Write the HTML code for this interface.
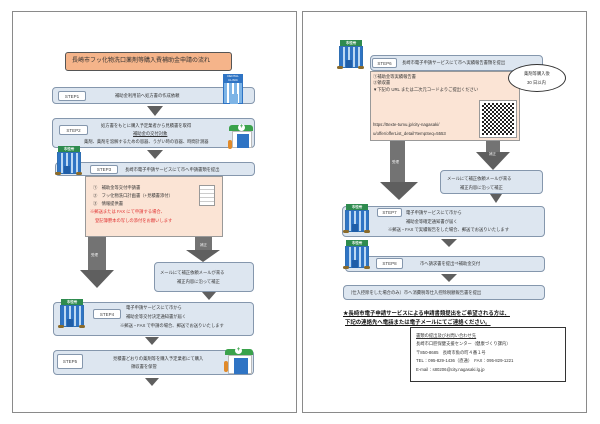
<!DOCTYPE html>
<html><head><meta charset="utf-8"><style>
*{margin:0;padding:0;box-sizing:border-box}
body{width:600px;height:424px;background:#fff;position:relative;overflow:hidden;font-family:"Liberation Sans","Noto Sans CJK JP",sans-serif;color:#333}
.a{position:absolute}
.page{position:absolute;border:1px solid #8a8a8a;background:#fff}
.bar{position:absolute;background:#dde6f0;border:1px solid #8597ad;border-radius:4px}
.lab{position:absolute;background:#fff;border:1px solid #8597ad;border-radius:2px;font-size:4.5px;text-align:center;color:#444}
.t{position:absolute;font-size:4.3px;white-space:nowrap;color:#333}
.tri{position:absolute;width:0;height:0;border-left:7px solid transparent;border-right:7px solid transparent;border-top:9px solid #5f5f5f}
.shaft{position:absolute;background:#737373}
.head{position:absolute;width:0;height:0;border-top:solid #5f5f5f}
.box{position:absolute;background:#fbe4d5;border:1px solid #999}
.mail{position:absolute;background:#dde6f0;border:1px solid #8597ad;border-radius:4px}
.bld{position:absolute}
.bld .sg{position:absolute;left:3px;top:0;width:15px;height:6px;background:#2e8b4e;color:#fff;font-size:3.5px;font-weight:bold;text-align:center;line-height:6px}
.bld .bd{position:absolute;left:2px;top:6px;width:19px;height:22px;background:#7db4e6;border:1px solid #2f6fb3;background-image:repeating-linear-gradient(90deg,#2f74c4 0 3px,#bcd8f2 3px 5px)}
.bld .dr{position:absolute;left:9px;top:20px;width:6px;height:8px;background:#1f5ea8}
.bld .gr{position:absolute;top:26px;width:6px;height:3px;background:#8a6a2a;border-radius:2px}
</style></head><body>

<!-- LEFT PAGE -->
<div class="page" style="left:12px;top:11px;width:285px;height:402px"></div>
<div class="a" style="left:65px;top:52px;width:167px;height:19px;background:#f5b48a;border:1.5px solid #555;border-radius:3px;font-size:6px;line-height:16px;padding-left:6px;color:#333">長崎市フッ化物洗口薬剤等購入費補助金申請の流れ</div>

<div class="bar" style="left:52px;top:87px;width:203px;height:17px"></div>
<div class="lab" style="left:58px;top:91px;width:28px;height:10px;line-height:9px">STEP1</div>
<div class="t" style="left:115px;top:93px">補助金利用前へ処方書の作成依頼</div>
<div class="a" style="left:221px;top:74px;width:26px;height:30px">
 <div class="a" style="left:2px;top:0;width:20px;height:8px;background:#2f74c4;color:#fff;font-size:3px;text-align:center;line-height:4px">DENTAL<br>CLINIC</div>
 <div class="a" style="left:2px;top:8px;width:20px;height:22px;background:#fff;border:1px solid #2f74c4;background-image:repeating-linear-gradient(90deg,#7db4e6 0 3px,#fff 3px 5px)"></div>
 <div class="a" style="left:9px;top:20px;width:8px;height:10px;background:#7db4e6"></div>
</div>
<div class="tri" style="left:147px;top:106px;border-left-width:8px;border-right-width:8px;border-top-width:10px"></div>

<div class="bar" style="left:52px;top:118px;width:203px;height:30px"></div>
<div class="lab" style="left:59px;top:125px;width:29px;height:10px;line-height:9px">STEP2</div>
<div class="t" style="left:101px;top:123px">処方書をもとに購入予定業者から見積書を取得</div>
<div class="t" style="left:133px;top:131px;text-decoration:underline">補助金の交付対象</div>
<div class="t" style="left:84px;top:139px">薬剤、薬剤を溶解するための容器、うがい時の容器、時間計測器</div>
<div class="a" style="left:228px;top:124px;width:26px;height:26px">
 <div class="a" style="left:1px;top:1px;width:24px;height:6px;background:#3aa24b;border-radius:3px 3px 0 0"></div>
 <div class="a" style="left:10px;top:0;width:7px;height:7px;background:#fff;border-radius:50%;color:#3aa24b;font-size:6px;text-align:center;line-height:7px;font-weight:bold">+</div>
 <div class="a" style="left:4px;top:7px;width:20px;height:17px;background:#fff;border:1px solid #bbb"></div>
 <div class="a" style="left:9px;top:10px;width:12px;height:14px;background:#2f74c4"></div>
</div>
<div class="a" style="left:228px;top:140px;width:4px;height:9px;background:#e08a2a;border-radius:2px"></div>
<div class="tri" style="left:147px;top:150px;border-left-width:8px;border-right-width:8px;border-top-width:9px"></div>

<div class="bar" style="left:55px;top:162px;width:200px;height:14px"></div>
<div class="bld" style="left:55px;top:146px;width:30px;height:32px"><div class="sg" style="width:22px">市役所</div><div class="bd" style="width:24px"></div><div class="dr"></div><div class="gr" style="left:0"></div><div class="gr" style="left:21px"></div></div>
<div class="lab" style="left:90px;top:165px;width:28px;height:9px;line-height:8px">STEP3</div>
<div class="t" style="left:125px;top:167px">長崎市電子申請サービスにて市へ申請書類を提出</div>

<div class="box" style="left:85px;top:176px;width:138px;height:61px"></div>
<div class="t" style="left:93px;top:185px">①　補助金等交付申請書</div>
<div class="t" style="left:93px;top:193px">②　フッ化物洗口計画書（+見積書添付）</div>
<div class="t" style="left:93px;top:201px">③　情報提供書</div>
<div class="t" style="left:90px;top:209px;color:#e03030">※郵送または FAX にて申請する場合、</div>
<div class="t" style="left:95px;top:218px;color:#e03030">登記簿謄本の写しの添付をお願いします</div>
<div class="a" style="left:199px;top:185px;width:16px;height:21px;background:#fff;border:1px solid #999;background-image:repeating-linear-gradient(180deg,#fff 0 3px,#ccc 3px 4px)"></div>

<div class="shaft" style="left:88px;top:237px;width:18px;height:34px"></div>
<div class="head" style="left:80px;top:270px;border-left:17px solid transparent;border-right:17px solid transparent;border-top-width:18px"></div>
<div class="t" style="left:91px;top:253px;color:#eee;font-size:3.5px">受理</div>
<div class="shaft" style="left:195px;top:237px;width:17px;height:14px"></div>
<div class="head" style="left:186px;top:250px;border-left:17px solid transparent;border-right:17px solid transparent;border-top-width:12px"></div>
<div class="t" style="left:200px;top:243px;color:#eee;font-size:3.5px">補正</div>

<div class="mail" style="left:154px;top:262px;width:100px;height:30px"></div>
<div class="t" style="left:160px;top:270px">メールにて補正依頼メールが来る</div>
<div class="t" style="left:177px;top:279px">補正内容に沿って補正</div>
<div class="tri" style="left:202px;top:292px;border-left-width:7px;border-right-width:7px;border-top-width:8px"></div>

<div class="bar" style="left:53px;top:302px;width:201px;height:34px"></div>
<div class="bld" style="left:58px;top:299px;width:30px;height:32px"><div class="sg" style="width:22px">市役所</div><div class="bd" style="width:24px"></div><div class="dr"></div><div class="gr" style="left:0"></div><div class="gr" style="left:21px"></div></div>
<div class="lab" style="left:93px;top:309px;width:28px;height:10px;line-height:9px">STEP4</div>
<div class="t" style="left:126px;top:305px">電子申請サービスにて市から</div>
<div class="t" style="left:126px;top:314px">補助金等交付決定通知書が届く</div>
<div class="t" style="left:120px;top:323px">※郵送・FAX で申請の場合、郵送でお送りいたします</div>
<div class="tri" style="left:145px;top:337px;border-top-width:8px"></div>

<div class="bar" style="left:53px;top:350px;width:201px;height:25px"></div>
<div class="lab" style="left:57px;top:354px;width:26px;height:15px;line-height:14px">STEP5</div>
<div class="t" style="left:113px;top:356px">見積書どおりの薬剤等を購入予定業者にて購入</div>
<div class="t" style="left:131px;top:364px">領収書を保管</div>
<div class="a" style="left:224px;top:347px;width:30px;height:28px">
 <div class="a" style="left:1px;top:2px;width:28px;height:6px;background:#3aa24b;border-radius:3px 3px 0 0"></div>
 <div class="a" style="left:11px;top:0;width:7px;height:7px;background:#fff;border-radius:50%;color:#3aa24b;font-size:6px;text-align:center;line-height:7px;font-weight:bold">+</div>
 <div class="a" style="left:4px;top:8px;width:24px;height:19px;background:#fff;border:1px solid #bbb"></div>
 <div class="a" style="left:10px;top:11px;width:14px;height:16px;background:#2f74c4"></div>
 <div class="a" style="left:0;top:14px;width:4px;height:11px;background:#e08a2a;border-radius:2px"></div>
</div>
<div class="tri" style="left:145px;top:378px;border-top-width:8px"></div>

<!-- RIGHT PAGE -->
<div class="page" style="left:302px;top:11px;width:285px;height:402px"></div>
<div class="bar" style="left:370px;top:55px;width:173px;height:16px"></div>
<div class="bld" style="left:337px;top:40px;width:30px;height:32px"><div class="sg" style="width:22px">市役所</div><div class="bd" style="width:24px"></div><div class="dr"></div><div class="gr" style="left:0"></div><div class="gr" style="left:21px"></div></div>
<div class="lab" style="left:372px;top:58px;width:25px;height:10px;line-height:9px">STEP6</div>
<div class="t" style="left:402px;top:60px">長崎市電子申請サービスにて市へ実績報告書類を提出</div>
<div class="box" style="left:370px;top:71px;width:150px;height:70px"></div>
<div class="t" style="left:373px;top:74px">①補助金等実績報告書</div>
<div class="t" style="left:373px;top:80px">②領収書</div>
<div class="t" style="left:373px;top:87px">▼下記の URL または二次元コードよりご提出ください</div>
<div class="t" style="left:373px;top:122px">https://ttexte-tumu.jp/city-nagasaki/</div>
<div class="t" style="left:373px;top:131px">u/offer/offerList_detail?tempSeq=5553</div>
<div class="a" style="left:479px;top:100px;width:38px;height:38px;background:#fff;border:1px solid #999;padding:2px">
 <div style="width:100%;height:100%;background:repeating-conic-gradient(#222 0 25%,#fff 0 50%) 0 0/4px 4px,#222"></div>
</div>
<div class="a" style="left:508px;top:64px;width:58px;height:28px;background:#fff;border:1px solid #333;border-radius:50%"></div>
<div class="t" style="left:524px;top:71px">薬剤等購入後</div>
<div class="t" style="left:527px;top:80px">30 日以内</div>

<div class="shaft" style="left:390px;top:141px;width:15px;height:42px"></div>
<div class="head" style="left:380px;top:182px;border-left:19px solid transparent;border-right:19px solid transparent;border-top-width:18px"></div>
<div class="t" style="left:392px;top:160px;color:#eee;font-size:3.5px">受理</div>
<div class="shaft" style="left:486px;top:141px;width:14px;height:12px"></div>
<div class="head" style="left:476px;top:152px;border-left:17px solid transparent;border-right:17px solid transparent;border-top-width:18px"></div>
<div class="t" style="left:489px;top:152px;color:#eee;font-size:3.5px">補正</div>

<div class="mail" style="left:440px;top:170px;width:103px;height:24px"></div>
<div class="t" style="left:447px;top:176px">メールにて補正依頼メールが来る</div>
<div class="t" style="left:460px;top:185px">補正内容に沿って補正</div>
<div class="tri" style="left:490px;top:194px;border-left-width:6px;border-right-width:6px;border-top-width:9px"></div>

<div class="bar" style="left:342px;top:206px;width:203px;height:31px"></div>
<div class="bld" style="left:343px;top:204px;width:30px;height:32px"><div class="sg" style="width:22px">市役所</div><div class="bd" style="width:24px"></div><div class="dr"></div><div class="gr" style="left:0"></div><div class="gr" style="left:21px"></div></div>
<div class="lab" style="left:377px;top:208px;width:25px;height:9px;line-height:8px">STEP7</div>
<div class="t" style="left:406px;top:210px">電子申請サービスにて市から</div>
<div class="t" style="left:406px;top:219px">補助金等確定通知書が届く</div>
<div class="t" style="left:388px;top:227px">※郵送・FAX で実績報告をした場合、郵送でお送りいたします</div>
<div class="tri" style="left:441px;top:239px;border-left-width:8px;border-right-width:8px;border-top-width:8px"></div>

<div class="bar" style="left:345px;top:256px;width:200px;height:16px"></div>
<div class="bld" style="left:343px;top:240px;width:30px;height:32px"><div class="sg" style="width:22px">市役所</div><div class="bd" style="width:24px"></div><div class="dr"></div><div class="gr" style="left:0"></div><div class="gr" style="left:21px"></div></div>
<div class="lab" style="left:376px;top:258px;width:27px;height:11px;line-height:10px">STEP8</div>
<div class="t" style="left:420px;top:261px">市へ請求書を提出⇒補助金交付</div>
<div class="tri" style="left:441px;top:274px;border-left-width:8px;border-right-width:8px;border-top-width:8px"></div>

<div class="bar" style="left:343px;top:285px;width:202px;height:15px"></div>
<div class="t" style="left:348px;top:290px">〔仕入控除をした場合のみ〕市へ消費税等仕入控除税額報告書を提出</div>

<div class="t" style="left:343px;top:309px;font-size:5.4px;font-weight:bold;color:#111;text-decoration:underline">★長崎市電子申請サービスによる申請書類提出をご希望される方は、</div>
<div class="t" style="left:345px;top:318px;font-size:5.4px;font-weight:bold;color:#111;text-decoration:underline">下記の連絡先へ電話または電子メールにてご連絡ください。</div>

<div class="a" style="left:410px;top:327px;width:156px;height:55px;border:1px solid #333;background:#fff"></div>
<div class="t" style="left:416px;top:333px;text-decoration:underline">書類の提出及びお問い合わせ先</div>
<div class="t" style="left:416px;top:341px">長崎市口腔保健支援センター（健康づくり課内）</div>
<div class="t" style="left:416px;top:350px">〒850-8685　長崎市魚の町４番１号</div>
<div class="t" style="left:416px;top:358px">TEL：095-829-1436（直通）　FAX：095-829-1221</div>
<div class="t" style="left:416px;top:367px">E-mail：s80206@city.nagasaki.lg.jp</div>
</body></html>
